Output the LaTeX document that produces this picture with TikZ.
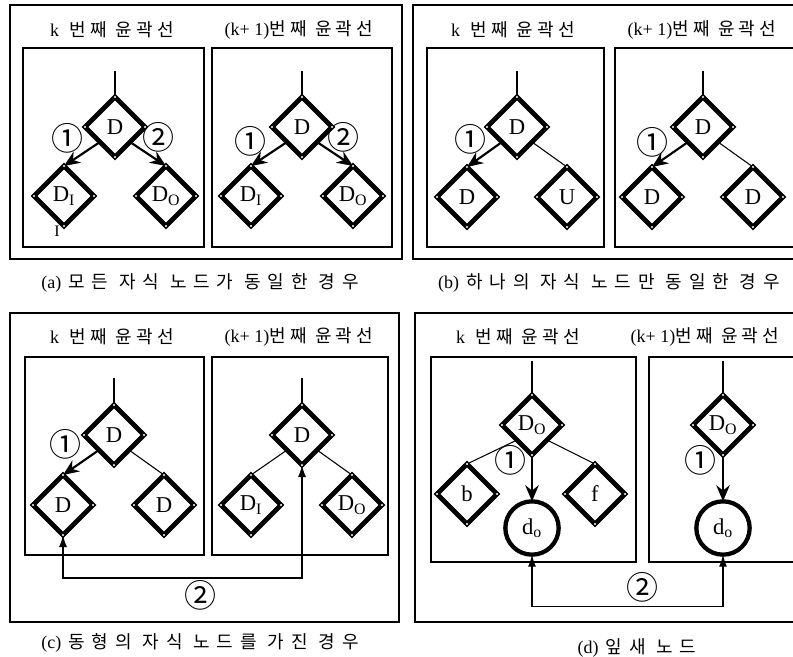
\documentclass[tikz,border=0pt]{standalone}
\usepackage{fontspec}
\setmainfont{Liberation Serif}
\newfontfamily\kr{Noto Sans CJK KR}[LetterSpace=24]
\newfontfamily\krcap{Noto Sans CJK KR}[LetterSpace=38]
\newfontfamily\circnum{Noto Sans CJK KR}
\usetikzlibrary{arrows.meta,shapes.geometric}

\begin{document}
\begin{tikzpicture}[
    x=0.75pt, y=-0.75pt,
    every node/.style={inner sep=0pt},
    ttl/.style={font=\fontsize{13.5}{15}\selectfont},
    subcap/.style={font=\fontsize{13.5}{15}\selectfont},
    dia/.style={diamond, draw, line width=3.5pt, minimum size=45pt, inner sep=0pt, outer sep=0pt, font=\fontsize{17}{17}\selectfont},
    leaf/.style={circle, draw, line width=3.2pt, minimum size=40pt, outer sep=0pt, font=\fontsize{17}{17}\selectfont},
    num/.style={font=\circnum\fontsize{24}{24}\selectfont},
    panel/.style={line width=1.5pt},
    frame/.style={line width=1.2pt},
    stem/.style={line width=0.9pt},
    link/.style={line width=0.8pt},
    pick/.style={-{Stealth[length=12pt,width=10pt]}, line width=1.6pt},
    pair/.style={{Latex[length=9pt,width=6pt]}-{Latex[length=9pt,width=6pt]}, line width=1pt}
]
\useasboundingbox (0,0) rectangle (793,657);
\clip (0,0) rectangle (793,657);

% (a) all children equal
\draw[panel] (10,5) rectangle (402,259);
\draw[frame] (23,48) rectangle (204,247);
\draw[frame] (212,48) rectangle (392,247);
\node[ttl] (atk) at (112,30) {k\hspace{0.6em}\kr 번째 윤곽선};
\node[ttl] (atn) at (299,30) {(k+ 1)\kr 번째 윤곽선};
\node[dia] (ak) at (115,127) {D};
\node[dia] (akl) at (64,196) {D\textsubscript{I}};
\node[dia] (akr) at (166,196) {D\textsubscript{O}};
\node[dia] (an) at (302,127) {D};
\node[dia] (anl) at (251,196) {D\textsubscript{I}};
\node[dia] (anr) at (353,196) {D\textsubscript{O}};
\node[num] (ak1) at (67,138) {①};
\node[num] (ak2) at (158,137) {②};
\node[num] (an1) at (250,141) {①};
\node[num] (an2) at (343,137) {②};
\node[font=\fontsize{12}{12}\selectfont] (amark) at (57,231) {I};
\node[subcap] (acap) at (200,283) {(a)\hspace{0.4em}\krcap 모든 자식 노드가 동일한 경우};
\draw[stem] (ak.north) -- ++(0,-26);
\draw[stem] (an.north) -- ++(0,-26);
\draw[pick] (ak.south west) -- (akl.north);
\draw[pick] (ak.south east) -- (akr.north);
\draw[pick] (an.south west) -- (anl.north);
\draw[pick] (an.south east) -- (anr.north);

% (b) one child equal
\draw[panel] (413,5) rectangle (800,259);
\draw[frame] (427,48) rectangle (604,247);
\draw[frame] (615,48) rectangle (793.5,247);
\node[ttl] (btk) at (513,30) {k\hspace{0.6em}\kr 번째 윤곽선};
\node[ttl] (btn) at (702,30) {(k+ 1)\kr 번째 윤곽선};
\node[dia] (bk) at (517,127) {D};
\node[dia] (bkl) at (467,197) {D};
\node[dia] (bkr) at (567,197) {U};
\node[dia] (bn) at (703,127) {D};
\node[dia] (bnl) at (652,197) {D};
\node[dia] (bnr) at (753,197) {D};
\node[num] (bk1) at (470,139) {①};
\node[num] (bn1) at (652,142) {①};
\node[subcap] (bcap) at (609,283) {(b)\hspace{0.4em}\krcap 하나의 자식 노드만 동일한 경우};
\draw[stem] (bk.north) -- ++(0,-26);
\draw[stem] (bn.north) -- ++(0,-26);
\draw[pick] (bk.south west) -- (bkl.north);
\draw[link] (bk.south east) -- (bkr.north);
\draw[pick] (bn.south west) -- (bnl.north);
\draw[link] (bn.south east) -- (bnr.north);

% (c) isomorphic children
\draw[panel] (10,313) rectangle (399,622);
\draw[frame] (25,357) rectangle (204,555);
\draw[frame] (212,357) rectangle (388,555);
\node[ttl] (ctk) at (112,337) {k\hspace{0.6em}\kr 번째 윤곽선};
\node[ttl] (ctn) at (299,337) {(k+ 1)\kr 번째 윤곽선};
\node[dia] (ck) at (114,435) {D};
\node[dia] (ckl) at (63,505) {D};
\node[dia] (ckr) at (164,505) {D};
\node[dia] (cn) at (302,435) {D};
\node[dia] (cnl) at (251,505) {D\textsubscript{I}};
\node[dia] (cnr) at (352,505) {D\textsubscript{O}};
\node[num] (ck1) at (65,444) {①};
\node[num] (c2) at (200,595) {②};
\node[subcap] (ccap) at (200,643) {(c)\hspace{0.4em}\krcap 동형의 자식 노드를 가진 경우};
\draw[stem] (ck.north) -- ++(0,-27);
\draw[stem] (cn.north) -- ++(0,-27);
\draw[pick] (ck.south west) -- (ckl.north);
\draw[link] (ck.south east) -- (ckr.north);
\draw[link] (cn.south west) -- (cnl.north);
\draw[link] (cn.south east) -- (cnr.north);
\draw[pair] (ckl.south) -- ++(0,43) -| (cn.south);

% (d) leaf node
\draw[panel] (415,313) rectangle (800,622);
\draw[frame] (431,357) rectangle (636,562);
\draw[frame] (649,357) rectangle (793.5,562);
\node[ttl] (dtk) at (518,337) {k\hspace{0.6em}\kr 번째 윤곽선};
\node[ttl] (dtn) at (705,337) {(k+ 1)\kr 번째 윤곽선};
\node[dia] (dk) at (532,425) {D\textsubscript{O}};
\node[dia] (dkl) at (467,494) {b};
\node[dia] (dkr) at (595,494) {f};
\node[leaf] (dkleaf) at (532,528) {d\textsubscript{o}};
\node[dia] (dn) at (723,425) {D\textsubscript{O}};
\node[leaf] (dnleaf) at (723,528) {d\textsubscript{o}};
\node[num] (dk1) at (510,460) {①};
\node[num] (dn1) at (700,460) {①};
\node[num] (d2) at (642,587) {②};
\node[subcap] (dcap) at (637,648) {(d)\hspace{0.4em}\krcap 잎새 노드};
\draw[stem] (dk.north) -- ++(0,-34);
\draw[stem] (dn.north) -- ++(0,-34);
\draw[link] (dk.south west) -- (dkl.north);
\draw[link] (dk.south east) -- (dkr.north);
\draw[pick] (dk.south) -- (dkleaf.north);
\draw[pick] (dn.south) -- (dnleaf.north);
\draw[pair] (dkleaf.south) -- ++(0,52) -| (dnleaf.south);

% white corner dots
\foreach \n in {ak,akl,akr,an,anl,anr,bk,bkl,bkr,bn,bnl,bnr,ck,ckl,ckr,cn,cnl,cnr,dk,dkl,dkr,dn}
  \foreach \a in {north,south,east,west}
    \fill[white] (\n.\a) circle (0.8pt);
\end{tikzpicture}
\end{document}
